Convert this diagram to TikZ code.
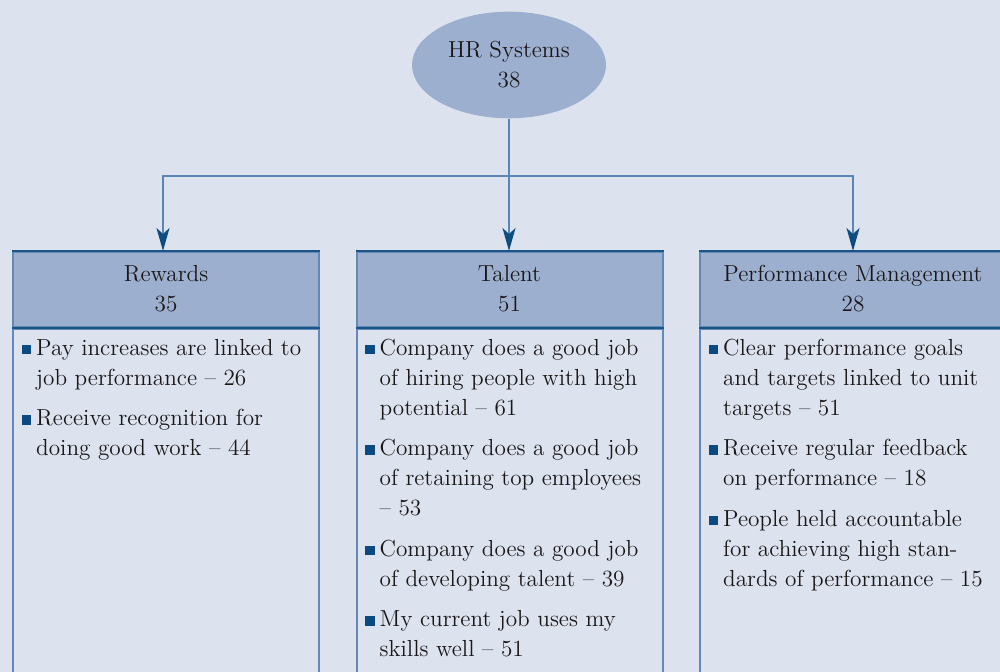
\documentclass[tikz,border=0pt]{standalone}
\usetikzlibrary{arrows.meta,shapes.geometric}
\definecolor{bgc}{HTML}{DCE2EE}
\definecolor{hdrc}{HTML}{9DAFCF}
\definecolor{connc}{HTML}{5A86B5}
\definecolor{tipc}{HTML}{0E4C7E}
\definecolor{darkc}{HTML}{1B5487}
\definecolor{sidec}{HTML}{6289B8}
\definecolor{bulc}{HTML}{0B4A80}
\definecolor{txtc}{HTML}{1A1718}
\newcommand\hrbul{\makebox[11.9pt][l]{\hspace{4.6pt}\raisebox{0.5pt}{\textcolor{bulc}{\rule{4.8pt}{4.8pt}}}}}
\newcommand\twoline[2]{\begin{tabular}{@{}c@{}}\rule{0pt}{12pt}#1\\#2\end{tabular}}
\begin{document}
\begin{tikzpicture}[x=0.5pt,y=-0.5pt,
  every node/.style={font=\fontsize{11.6}{15}\selectfont, text=txtc},
  conn/.style={draw=connc, line width=0.85pt, -{Stealth[length=11.5pt,width=6.5pt,inset=3pt,color=tipc]}},
  hdr/.style={rectangle, fill=hdrc, draw=sidec, line width=1pt, minimum width=153pt, minimum height=37.5pt, inner sep=0pt},
  bodybox/.style={rectangle, draw=sidec, line width=1pt, fill=bgc, minimum width=153pt, minimum height=200pt, inner sep=0pt, anchor=north},
  items/.style={inner sep=0pt, anchor=north west},
  darkline/.style={draw=darkc, line width=1pt},
  topnode/.style={ellipse, fill=hdrc, minimum width=97pt, minimum height=53.3pt, inner sep=0pt}]
\useasboundingbox (0,0) rectangle (1000,672);
\fill[bgc] (0,0) rectangle (1000,672);

% top ellipse
\node[topnode] (hr) at (509,65) {\twoline{HR Systems}{38}};

% headers
\node[hdr] (rewH) at (166,289.5) {\twoline{Rewards}{35}};
\node[hdr] (talH) at (509.5,289.5) {\twoline{Talent}{51}};
\node[hdr] (perH) at (853,289.5) {\twoline{Performance Management}{28}};

% bodies
\node[bodybox] (rewB) at (rewH.south) {};
\node[bodybox] (talB) at (talH.south) {};
\node[bodybox] (perB) at (perH.south) {};

% dark top and divider lines
\foreach \h in {rewH,talH,perH}{
  \draw[darkline] (\h.north west) -- (\h.north east);
  \draw[darkline] (\h.south west) -- (\h.south east);
}

% body texts
\node[items] (rewT) at ([yshift=-3pt]rewB.north west) {\begin{tabular}{@{}l@{}l@{}}
\hrbul & Pay increases are linked to\\
 & job performance -- 26\\[5.25pt]
\hrbul & Receive recognition for\\
 & doing good work -- 44
\end{tabular}};

\node[items] (talT) at ([yshift=-3pt]talB.north west) {\begin{tabular}{@{}l@{}l@{}}
\hrbul & Company does a good job\\
 & of hiring people with high\\
 & potential -- 61\\[5.25pt]
\hrbul & Company does a good job\\
 & of retaining top employees\\
 & -- 53\\[5.25pt]
\hrbul & Company does a good job\\
 & of developing talent -- 39\\[5.25pt]
\hrbul & My current job uses my\\
 & skills well -- 51
\end{tabular}};

\node[items] (perT) at ([yshift=-3pt]perB.north west) {\begin{tabular}{@{}l@{}l@{}}
\hrbul & Clear performance goals\\
 & and targets linked to unit\\
 & targets -- 51\\[5.25pt]
\hrbul & Receive regular feedback\\
 & on performance -- 18\\[5.25pt]
\hrbul & People held accountable\\
 & for achieving high stan-\\
 & dards of performance -- 15
\end{tabular}};

% connectors
\coordinate (j) at (509,176);
\draw[conn] (hr.south) -- (hr.south |- talH.north);
\draw[conn] (j) -| ([xshift=-1.5pt]rewH.north);
\draw[conn] (j) -| (perH.north);
\end{tikzpicture}
\end{document}
